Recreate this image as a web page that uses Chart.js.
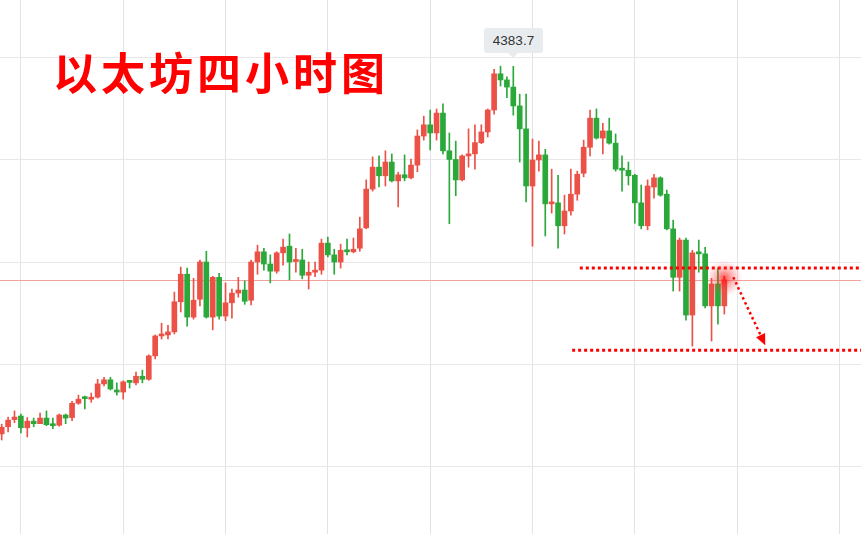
<!DOCTYPE html>
<html>
<head>
<meta charset="utf-8">
<script src="https://cdn.jsdelivr.net/npm/chart.js@4.4.0/dist/chart.umd.min.js"></script>
<style>
  html, body { margin: 0; padding: 0; background: #fff; }
  #wrap { position: relative; width: 861px; height: 534px; }
  #title {
    position: absolute; left: 53px; top: 49px;
    font-family: "Noto Sans CJK SC", sans-serif; font-weight: 700;
    font-size: 44px; line-height: 1; letter-spacing: 4px; color: #ff0000;
  }
  #peak {
    position: absolute; left: 484px; top: 28px; width: 59px; height: 25px;
    background: #e9ecef; border-radius: 3px; color: #333;
    font-family: "Liberation Sans", Arial, sans-serif; font-size: 13.5px;
    line-height: 25px; text-align: center;
  }
  #peak:after {
    content: ""; position: absolute; left: 24px; top: 25px;
    border-left: 5px solid transparent; border-right: 5px solid transparent;
    border-top: 5px solid #e9ecef;
  }
</style>
</head>
<body>
<div id="wrap">
  <canvas id="chart" width="861" height="534"></canvas>
  <div id="title">以太坊四小时图</div>
  <div id="peak">4383.7</div>
</div>
<script>
// ETH 4h candles (red = up, green = down)
var opens = [3663, 3677, 3691, 3698, 3675, 3688, 3683, 3694, 3680, 3680, 3700, 3695, 3723, 3733, 3731, 3735,
  3761, 3769, 3749, 3745, 3765, 3763, 3776, 3770, 3816, 3855, 3857, 3863, 3922, 3976, 3892, 3927,
  4000, 3892, 3970, 3894, 3920, 3939, 3945, 3925, 4000, 4020, 3996, 3982, 4018, 4031, 4001, 4004,
  3974, 3980, 3984, 4037, 4014, 4000, 4023, 4020, 4027, 4067, 4143, 4186, 4169, 4196, 4159, 4171,
  4165, 4190, 4247, 4269, 4253, 4292, 4218, 4201, 4161, 4208, 4212, 4234, 4255, 4298, 4369, 4357,
  4343, 4306, 4261, 4149, 4200, 4210, 4114, 4116, 4071, 4100, 4133, 4174, 4225, 4282, 4243, 4257,
  4233, 4184, 4180, 4170, 4116, 4071, 4147, 4165, 4133, 4065, 3970, 4043, 3896, 4018, 4016, 3914,
  3957, 3914];
var closes = [3676, 3690, 3696, 3675, 3688, 3683, 3694, 3681, 3679, 3700, 3694, 3723, 3731, 3732, 3735, 3761,
  3769, 3751, 3745, 3765, 3764, 3776, 3770, 3816, 3855, 3857, 3863, 3922, 3976, 3892, 3925, 4000,
  3892, 3970, 3894, 3920, 3939, 3945, 3923, 4000, 4020, 3996, 3982, 4018, 4029, 4000, 4004, 3974,
  3980, 3984, 4037, 4014, 4000, 4023, 4020, 4025, 4065, 4143, 4186, 4169, 4196, 4159, 4171, 4165,
  4190, 4247, 4269, 4253, 4292, 4218, 4201, 4161, 4208, 4212, 4234, 4255, 4298, 4369, 4357, 4343,
  4306, 4261, 4149, 4200, 4210, 4114, 4116, 4071, 4100, 4133, 4172, 4225, 4282, 4243, 4257, 4233,
  4182, 4180, 4169, 4116, 4071, 4149, 4165, 4131, 4065, 3970, 4043, 3896, 4018, 4016, 3914, 3957,
  3914, 3965];
var highs = [3682, 3696, 3708, 3702, 3695, 3694, 3704, 3708, 3694, 3702, 3702, 3727, 3739, 3737, 3743, 3770,
  3774, 3774, 3763, 3767, 3767, 3784, 3788, 3818, 3857, 3880, 3876, 3941, 3990, 3988, 3968, 4004,
  4021, 3972, 3978, 3959, 3947, 3970, 3963, 4004, 4033, 4027, 4014, 4020, 4045, 4055, 4027, 4025,
  4000, 4000, 4045, 4049, 4025, 4035, 4045, 4047, 4088, 4161, 4206, 4208, 4218, 4212, 4176, 4210,
  4202, 4259, 4286, 4298, 4300, 4310, 4253, 4237, 4210, 4261, 4269, 4269, 4300, 4378, 4384, 4363,
  4383.7, 4329, 4329, 4241, 4237, 4221, 4182, 4170, 4131, 4182, 4178, 4239, 4298, 4300, 4272, 4282,
  4251, 4208, 4196, 4172, 4151, 4161, 4172, 4167, 4141, 4082, 4047, 4047, 4023, 4043, 4029, 3968,
  3988, 3972];
var lows = [3651, 3667, 3685, 3665, 3657, 3677, 3683, 3679, 3673, 3678, 3683, 3689, 3721, 3712, 3725, 3733,
  3757, 3749, 3739, 3731, 3753, 3759, 3763, 3768, 3810, 3849, 3849, 3859, 3902, 3874, 3888, 3914,
  3890, 3867, 3888, 3885, 3890, 3931, 3917, 3916, 3976, 3984, 3959, 3978, 3994, 3965, 3980, 3967,
  3947, 3971, 3976, 4010, 3976, 3988, 4014, 4018, 4021, 4065, 4139, 4147, 4149, 4157, 4108, 4159,
  4163, 4177, 4239, 4220, 4239, 4212, 4075, 4130, 4159, 4186, 4182, 4232, 4245, 4290, 4345, 4322,
  4288, 4196, 4118, 4031, 4178, 4051, 4096, 4027, 4055, 4092, 4121, 4167, 4208, 4241, 4212, 4231,
  4178, 4139, 4151, 4076, 4065, 4063, 4125, 4129, 4063, 3943, 3943, 3886, 3835, 3980, 3910, 3845,
  3878, 3898];

// annotation levels
var resistance = 3988;
var support = 3827;
var gridPrices = [3600, 3800, 4000, 4200, 4400];
var gridSlots = [0, 16, 32, 48, 64, 80, 96, 112, 128];

var UP = '#eb5146', DOWN = '#2aa83a';
var slot = opens.map(function (v, i) { return i - 3; });
var colors = opens.map(function (o, i) { return closes[i] >= o ? UP : DOWN; });

var notes = {
  id: 'notes',
  beforeDatasetsDraw: function (chart) {
    var c = chart.ctx, y = chart.scales.y, a = chart.chartArea;
    var py = Math.round(y.getPixelForValue(closes[closes.length - 1])) + 0.5;
    c.save();
    c.strokeStyle = '#f4a39c';
    c.lineWidth = 1;
    c.beginPath(); c.moveTo(a.left, py); c.lineTo(a.right, py); c.stroke();
    c.restore();
  },
  afterDatasetsDraw: function (chart) {
    var c = chart.ctx, x = chart.scales.x, y = chart.scales.y, a = chart.chartArea;
    c.save();
    // dotted levels
    c.strokeStyle = '#ff0000';
    c.lineWidth = 3;
    c.setLineDash([3, 3]);
    var r = y.getPixelForValue(resistance);
    c.beginPath(); c.moveTo(x.getPixelForValue(87.4), r); c.lineTo(a.right, r); c.stroke();
    var s = y.getPixelForValue(support);
    c.beginPath(); c.moveTo(x.getPixelForValue(86.2), s); c.lineTo(a.right, s); c.stroke();

    // glow on last candle
    var gx = x.getPixelForValue(slot[slot.length - 1]);
    var gy = y.getPixelForValue(3968);
    var g = c.createRadialGradient(gx, gy, 0, gx, gy, 18);
    g.addColorStop(0, 'rgba(255,0,0,0.7)');
    g.addColorStop(0.45, 'rgba(255,40,40,0.35)');
    g.addColorStop(1, 'rgba(255,80,80,0)');
    c.fillStyle = g;
    c.beginPath(); c.arc(gx, gy, 18, 0, Math.PI * 2); c.fill();

    // dotted arrow
    var x1 = x.getPixelForValue(111.4), y1 = y.getPixelForValue(3970);
    var x2 = x.getPixelForValue(116.4), y2 = y.getPixelForValue(3837);
    var ang = Math.atan2(y2 - y1, x2 - x1);
    c.lineWidth = 2.5;
    c.setLineDash([2.5, 3]);
    c.beginPath(); c.moveTo(x1, y1); c.lineTo(x2 - 8 * Math.cos(ang), y2 - 8 * Math.sin(ang)); c.stroke();
    c.setLineDash([]);
    c.fillStyle = '#ff0000';
    c.beginPath();
    c.moveTo(x2, y2);
    c.lineTo(x2 - 11 * Math.cos(ang) + 5 * Math.sin(ang), y2 - 11 * Math.sin(ang) - 5 * Math.cos(ang));
    c.lineTo(x2 - 11 * Math.cos(ang) - 5 * Math.sin(ang), y2 - 11 * Math.sin(ang) + 5 * Math.cos(ang));
    c.closePath(); c.fill();
    c.restore();
  }
};

var ctx = document.getElementById('chart').getContext('2d');
var myChart = new Chart(ctx, {
  type: 'bar',
  data: {
    datasets: [
      {
        label: 'wick',
        data: slot.map(function (k, i) { return { x: k, y: [lows[i], highs[i]] }; }),
        backgroundColor: colors,
        barThickness: 1,
        grouped: false,
        order: 2
      },
      {
        label: 'body',
        data: slot.map(function (k, i) { return { x: k, y: [opens[i], closes[i]] }; }),
        backgroundColor: colors,
        barThickness: 5,
        minBarLength: 2,
        grouped: false,
        order: 1
      }
    ]
  },
  options: {
    responsive: false,
    animation: false,
    events: [],
    layout: { padding: 0 },
    plugins: {
      legend: { display: false },
      tooltip: { enabled: false },
      title: { display: false }
    },
    scales: {
      x: {
        type: 'linear',
        min: -3.266,
        max: 131.37,
        offset: false,
        afterBuildTicks: function (axis) {
          axis.ticks = gridSlots.map(function (v) { return { value: v }; });
        },
        ticks: { display: false },
        border: { display: false },
        grid: { color: '#e2e2e8', drawTicks: false, offset: false }
      },
      y: {
        min: 3466.7,
        max: 4513.7,
        afterBuildTicks: function (axis) {
          axis.ticks = gridPrices.map(function (v) { return { value: v }; });
        },
        ticks: { display: false },
        border: { display: false },
        grid: { color: '#e8e8ec', drawTicks: false }
      }
    }
  },
  plugins: [notes]
});
</script>
</body>
</html>
